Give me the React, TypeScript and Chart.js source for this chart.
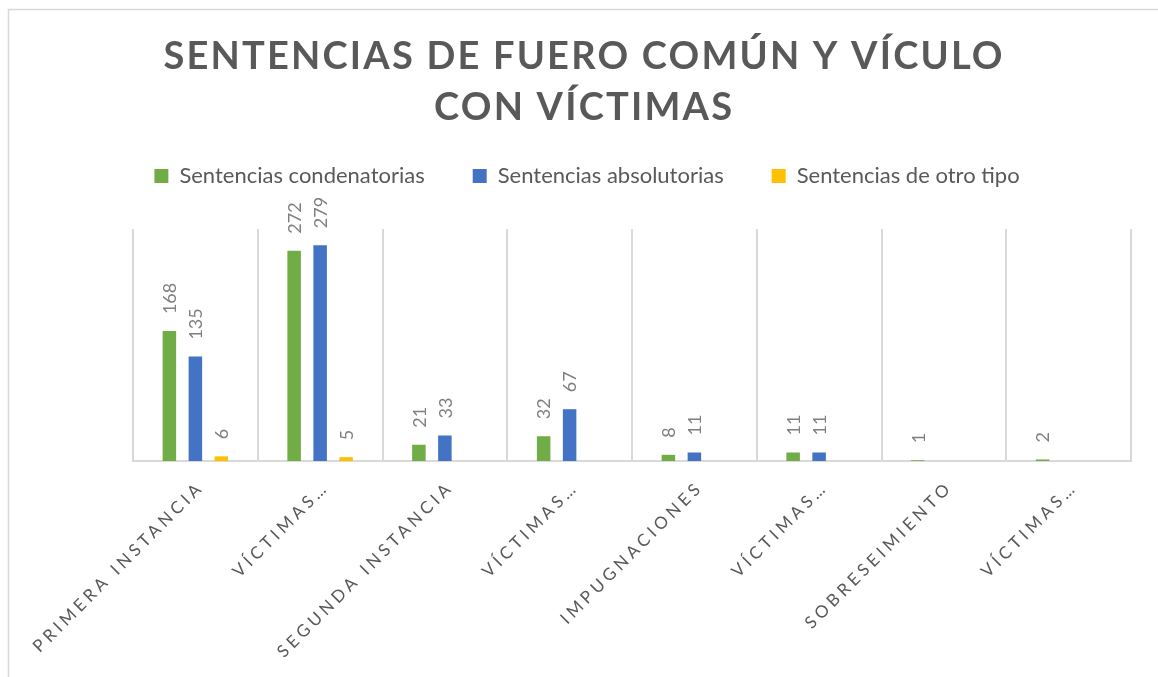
import React, { useEffect, useRef } from 'react';
import { Chart, registerables } from 'chart.js';

Chart.register(...registerables);

const categories = [
  'PRIMERA INSTANCIA',
  'VÍCTIMAS…',
  'SEGUNDA INSTANCIA',
  'VÍCTIMAS…',
  'IMPUGNACIONES',
  'VÍCTIMAS…',
  'SOBRESEIMIENTO',
  'VÍCTIMAS…',
];
const condenatorias = [168, 272, 21, 32, 8, 11, 1, 2];
const absolutorias = [135, 279, 33, 67, 11, 11, null, null];
const otroTipo = [6, 5, null, null, null, null, null, null];
const seriesNames = ['Sentencias condenatorias', 'Sentencias absolutorias', 'Sentencias de otro tipo'];
const seriesColors = ['#70AD47', '#4472C4', '#FFC000'];
const titleLines = ['SENTENCIAS DE FUERO COMÚN Y VÍCULO', 'CON VÍCTIMAS'];
const yMax = 300;

const FONT = 'Lato, "Open Sans", sans-serif';

const excelPlugin = {
  id: 'excelDecor',
  beforeDraw(chart: any) {
    const ctx = chart.ctx;
    ctx.save();
    ctx.fillStyle = '#ffffff';
    ctx.fillRect(0, 0, chart.width, chart.height);
    ctx.strokeStyle = '#d9d9d9';
    ctx.lineWidth = 1.5;
    ctx.strokeRect(8.5, 9.5, chart.width + 20, chart.height + 20);
    ctx.restore();
    const lg = chart.legend;
    if (lg) {
      const h = lg.bottom - lg.top;
      lg.top = 117;
      lg.bottom = 117 + h;
      lg.left = 16;
      lg.right = chart.width;
    }
  },
  afterDatasetsDraw(chart: any) {
    const ctx = chart.ctx;
    ctx.save();
    ctx.font = `18px ${FONT}`;
    ctx.fillStyle = '#7f7f7f';
    ctx.textAlign = 'left';
    ctx.textBaseline = 'middle';
    chart.data.datasets.forEach((ds: any, di: number) => {
      const meta = chart.getDatasetMeta(di);
      meta.data.forEach((el: any, i: number) => {
        const v = ds.data[i];
        if (v === null || v === undefined) return;
        ctx.save();
        ctx.translate(el.x + 1, el.y - 17);
        ctx.rotate(-Math.PI / 2);
        ctx.fillText(String(v), 0, 0);
        ctx.restore();
      });
    });
    ctx.restore();
  },
  afterDraw(chart: any) {
    const ctx = chart.ctx;
    const area = chart.chartArea;
    // title
    ctx.save();
    const sp = 2.2;
    ctx.font = `bold 38px ${FONT}`;
    (ctx as any).letterSpacing = `${sp}px`;
    ctx.fillStyle = '#595959';
    ctx.textAlign = 'center';
    ctx.textBaseline = 'middle';
    const cx = (8 + chart.width) / 2 + sp / 2;
    ctx.fillText(titleLines[0], cx, 57);
    ctx.fillText(titleLines[1], cx, 108);
    ctx.restore();
    // category labels
    const xs = chart.scales.x;
    ctx.save();
    const lsp = 4;
    ctx.font = `17px ${FONT}`;
    (ctx as any).letterSpacing = `${lsp}px`;
    ctx.fillStyle = '#595959';
    ctx.textAlign = 'right';
    ctx.textBaseline = 'middle';
    categories.forEach((lab, i) => {
      const px = xs.getPixelForTick(i);
      ctx.save();
      ctx.translate(px + 3, area.bottom + 26);
      ctx.rotate(-Math.PI / 4);
      ctx.fillText(lab, lsp, 0);
      ctx.restore();
    });
    ctx.restore();
  },
};

export default function App() {
  const ref = useRef<HTMLCanvasElement | null>(null);
  useEffect(() => {
    if (!ref.current) return;
    const chart = new Chart(ref.current, {
      type: 'bar',
      data: {
        labels: categories,
        datasets: [
          { label: seriesNames[0], data: condenatorias, backgroundColor: seriesColors[0] },
          { label: seriesNames[1], data: absolutorias, backgroundColor: seriesColors[1] },
          { label: seriesNames[2], data: otroTipo, backgroundColor: seriesColors[2] },
        ],
      },
      options: {
        animation: false,
        responsive: true,
        maintainAspectRatio: false,
        datasets: { bar: { categoryPercentage: 0.625, barPercentage: 0.52 } },
        layout: { padding: { top: 149, left: 133, right: 27, bottom: 0 } },
        plugins: {
          title: { display: false },
          tooltip: { enabled: false },
          legend: {
            display: true,
            position: 'top',
            labels: {
              boxWidth: 14,
              boxHeight: 14,
              padding: 48,
              color: '#595959',
              font: { family: FONT, size: 22 },
            },
          },
        },
        scales: {
          x: {
            grid: { display: true, color: '#d9d9d9', lineWidth: 2, drawTicks: false, offset: true },
            border: { display: true, color: '#d9d9d9', width: 2 },
            ticks: { display: false },
            afterFit: (s: any) => {
              s.height = 216;
            },
          },
          y: {
            display: false,
            min: 0,
            max: yMax,
          },
        },
      },
      plugins: [excelPlugin],
    } as any);
    return () => chart.destroy();
  }, []);
  return (
    <div style={{ position: 'absolute', left: 0, top: 0, width: 1158, height: 677 }}>
      <canvas ref={ref} />
    </div>
  );
}
